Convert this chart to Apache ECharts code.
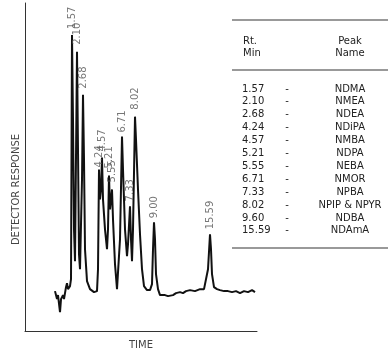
<!DOCTYPE html>
<html>
<head>
<meta charset="utf-8">
<script src="https://cdn.jsdelivr.net/npm/echarts@6/dist/echarts.min.js"></script>
<style>
html,body{margin:0;padding:0;background:#fff;}
#chart{width:388px;height:355px;}
</style>
</head>
<body>
<div id="chart"></div>
<script>
// Chromatogram trace (arbitrary time units, detector response units)
var traceX = [30,32,33,35,36,38,39,41,42,43,45,46,47,48,49,50,51,52,53,54,55,56,57,58,59,60,62,65,69,72,73,74,75,76,77,78,80,82,83,84,85,86,87,88,90,92,93,95,97,98,100,102,103,105,106,107,108,110,111,113,115,117,119,122,125,127,128,129,130,131,133,135,137,140,143,145,148,151,155,158,161,165,170,175,179,181,183,185,186,187,189,192,195,199,203,207,211,215,219,223,227,230];
var traceY = [40,32,36,19,32,36,32,44,48,42,45,52,297,212,102,70,70,280,182,77,62,64,152,237,172,82,50,42,39,40,62,162,132,142,174,132,102,82,102,156,122,132,142,112,67,42,44,92,195,162,102,75,87,125,92,70,102,215,192,142,97,62,45,41,41,47,82,109,92,57,42,36,35,36,35,37,36,38,39,38,40,41,40,42,42,44,62,97,82,57,44,42,41,40,40,39,40,38,40,39,41,39];

// Peak annotations
var peakLabels = ["1.57","2.10","2.68","4.24","4.57","5.21","5.55","6.71","7.33","8.02","9.00","15.59"];
var peakX = [47,52,58,74,77,84,87,97,105,110,129,185];

// Table
var rtValues = ["1.57","2.10","2.68","4.24","4.57","5.21","5.55","6.71","7.33","8.02","9.60","15.59"];
var peakNames = ["NDMA","NMEA","NDEA","NDiPA","NMBA","NDPA","NEBA","NMOR","NPBA","NPIP & NPYR","NDBA","NDAmA"];
var tableHeaders = [["Rt.","Min"],["Peak","Name"]];

// styling-only: small horizontal nudges of peak labels (px)
var labelNudge = [2,3,2,-2,2,3,3,0,1,3,0,1];

var FONT = "DejaVu Sans";
var trace = traceX.map(function(x,i){return [x, traceY[i]];});
var peakPts = peakX.map(function(x,i){
  var idx = traceX.indexOf(x);
  return {value:[x, traceY[idx]], label:{offset:[labelNudge[i],0]}, name:peakLabels[i]};
});

var graphics = [];
var tL = 232, tR = 388;
function hline(y){
  graphics.push({type:'line', shape:{x1:tL,y1:y,x2:tR,y2:y}, style:{stroke:'#777', lineWidth:1.5}, silent:true});
}
hline(20); hline(70); hline(248);
function txt(x,y,s,align){
  graphics.push({type:'text', x:x, y:y, style:{text:s, fill:'#222', font:'10px "'+FONT+'"', textAlign:align, textVerticalAlign:'middle'}, silent:true});
}
txt(243,41,tableHeaders[0][0],'left');
txt(243,53,tableHeaders[0][1],'left');
txt(350,41,tableHeaders[1][0],'center');
txt(350,53,tableHeaders[1][1],'center');
rtValues.forEach(function(v,i){
  var y = 89 + i*12.9;
  txt(242,y,v,'left');
  txt(287,y,'-','center');
  txt(350,y,peakNames[i],'center');
});

var chart = echarts.init(document.getElementById('chart'), null, {renderer:'canvas'});
chart.setOption({
  animation:false,
  backgroundColor:'#fff',
  grid:{left:25, top:3, right:131, bottom:23},
  xAxis:{
    type:'value', min:0, max:232,
    name:'TIME', nameLocation:'middle', nameGap:9,
    nameTextStyle:{color:'#444', fontSize:10, fontFamily:FONT, verticalAlign:'top'},
    axisLine:{show:true, onZero:false, lineStyle:{color:'#333', width:1}},
    axisTick:{show:false}, axisLabel:{show:false}, splitLine:{show:false}
  },
  yAxis:{
    type:'value', min:0, max:329,
    name:'DETECTOR RESPONSE', nameLocation:'middle', nameGap:4, nameRotate:90,
    nameTextStyle:{color:'#444', fontSize:10, fontFamily:FONT, padding:[0,45,0,0]},
    axisLine:{show:true, lineStyle:{color:'#333', width:1}},
    axisTick:{show:false}, axisLabel:{show:false}, splitLine:{show:false}
  },
  series:[
    {
      type:'line', data:trace, showSymbol:false, smooth:false,
      lineStyle:{color:'#111', width:2}, silent:true, z:2
    },
    {
      type:'scatter', data:peakPts, symbolSize:0, silent:true, z:3,
      label:{
        show:true, formatter:function(p){return p.name;}, position:'top', distance:4,
        rotate:90, align:'left', verticalAlign:'middle',
        color:'#555', fontSize:10, fontFamily:FONT
      }
    }
  ],
  graphic:graphics
});
</script>
</body>
</html>
